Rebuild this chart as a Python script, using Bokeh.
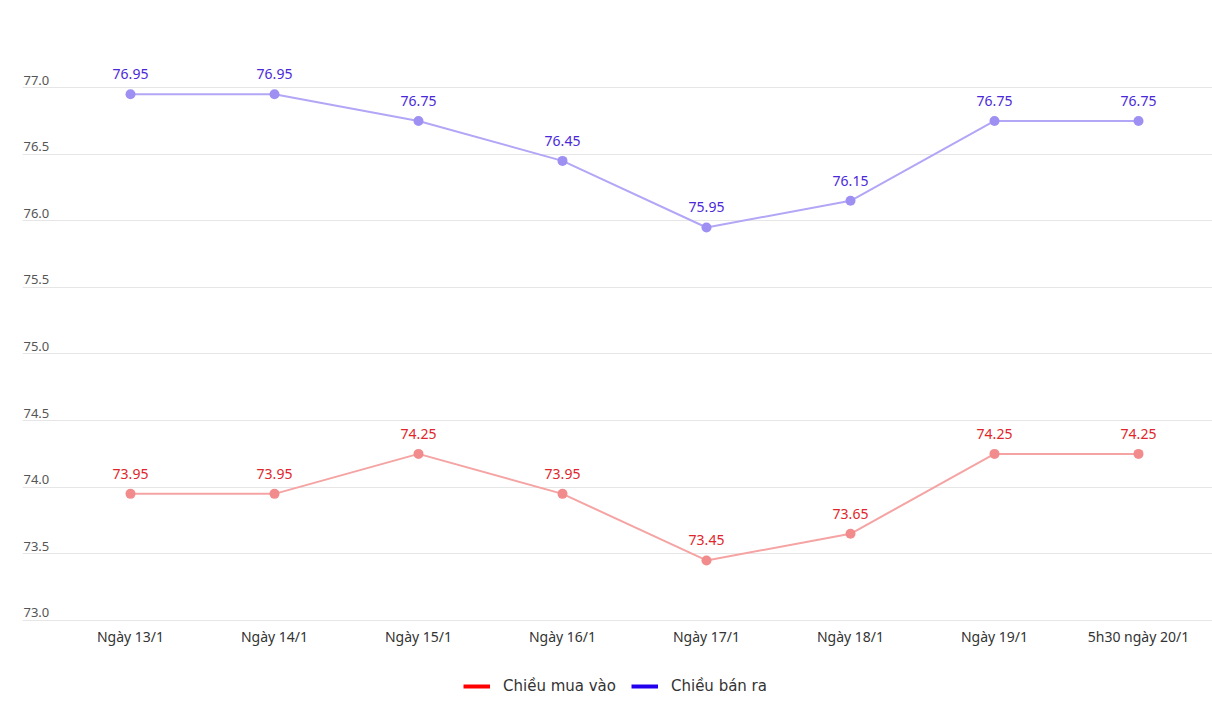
from bokeh.plotting import figure
from bokeh.models import Range1d, Legend, LegendItem, FixedTicker, ColumnDataSource
from bokeh.core.properties import value
from bokeh.embed import file_html
from bokeh.resources import INLINE

categories = ["Ngày 13/1", "Ngày 14/1", "Ngày 15/1", "Ngày 16/1",
              "Ngày 17/1", "Ngày 18/1", "Ngày 19/1", "5h30 ngày 20/1"]
buy = [73.95, 73.95, 74.25, 73.95, 73.45, 73.65, 74.25, 74.25]
sell = [76.95, 76.95, 76.75, 76.45, 75.95, 76.15, 76.75, 76.75]
y_ticks = [73.0, 73.5, 74.0, 74.5, 75.0, 75.5, 76.0, 76.5, 77.0]
y_tick_labels = ["73.0", "73.5", "74.0", "74.5", "75.0", "75.5", "76.0", "76.5", "77.0"]
series_names = ["Chiều mua vào", "Chiều bán ra"]

W, H = 1212, 712
L = 22
px_per_cat = 144.0
px_per_unit = 133.0
x0 = -(130 - L) / px_per_cat
x1 = x0 + (W - L) / px_per_cat
y0 = 73.0 - (H - 620) / px_per_unit
y1 = 77.0 + 87 / px_per_unit

p = figure(width=W, height=H, output_backend="svg", toolbar_location=None,
           x_range=Range1d(x0, x1), y_range=Range1d(y0, y1),
           x_axis_location=None, y_axis_location=None,
           min_border_left=L, min_border_right=0,
           min_border_top=0, min_border_bottom=0)
p.outline_line_color = None
p.background_fill_color = "white"
p.border_fill_color = "white"
p.xgrid.visible = False
p.ygrid.ticker = FixedTicker(ticks=y_ticks)
p.ygrid.grid_line_color = "#e6e6e6"
p.ygrid.grid_line_width = 1

xs = list(range(len(categories)))

# x axis baseline is the 73.0 gridline; category labels beneath it
p.text(x=xs, y=[y_ticks[0]] * len(xs), text=categories,
       text_font=value("Noto Sans"), text_font_size="14px", text_color="#333333",
       text_align="center", text_baseline="middle", y_offset=16)

# y labels inside, above gridlines
p.text(x=[x0] * len(y_ticks), y=y_ticks, text=y_tick_labels,
       text_font=value("Noto Sans"), text_font_size="13px", text_color="#555555",
       text_baseline="bottom", text_align="left", x_offset=1, y_offset=-3)

src = ColumnDataSource(dict(x=xs, buy=buy, sell=sell,
                            buy_l=["%.2f" % v for v in buy],
                            sell_l=["%.2f" % v for v in sell]))

p.line("x", "buy", source=src, line_color="#f5a3a3", line_width=2)
p.scatter("x", "buy", source=src, size=10, fill_color="#f28c8c", line_color=None)
p.line("x", "sell", source=src, line_color="#b2a6f6", line_width=2)
p.scatter("x", "sell", source=src, size=10, fill_color="#9e90f3", line_color=None)

p.text("x", "buy", text="buy_l", source=src, text_font=value("Noto Sans"),
       text_font_size="14px", text_color="#e0252b", text_align="center",
       text_baseline="middle", y_offset=-20)
p.text("x", "sell", text="sell_l", source=src, text_font=value("Noto Sans"),
       text_font_size="14px", text_color="#4a28d8", text_align="center",
       text_baseline="middle", y_offset=-20)

# legend swatches (placeholder renderers with no visible data)
nan = float("nan")
r_red = p.line(x=[nan], y=[nan], line_color="#ff0000", line_width=4)
r_blue = p.line(x=[nan], y=[nan], line_color="#2200ee", line_width=4)
legend = Legend(items=[LegendItem(label=series_names[0], renderers=[r_red]),
                       LegendItem(label=series_names[1], renderers=[r_blue])],
                orientation="horizontal", location=(441, 17),
                glyph_width=27, glyph_height=16, label_standoff=13, spacing=15,
                label_text_font="DejaVu Sans", label_text_font_size="15px",
                label_text_color="#333333", border_line_color=None,
                background_fill_alpha=0, padding=6, margin=0)
p.add_layout(legend, "center")

open("out.html", "w").write(file_html(p, INLINE))
